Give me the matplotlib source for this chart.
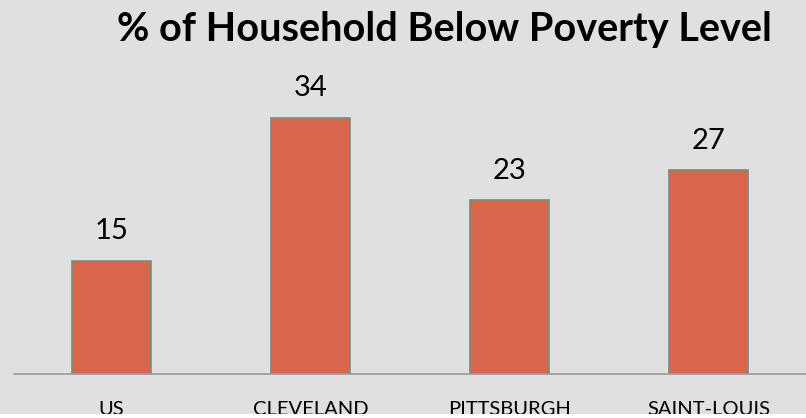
import matplotlib.pyplot as plt
from matplotlib.patches import Rectangle

cities = ['US', 'CLEVELAND', 'PITTSBURGH', 'SAINT-LOUIS']
poverty_pct = [15, 34, 23, 27]

plt.rcParams['font.family'] = ['Lato', 'DejaVu Sans']

fig = plt.figure(figsize=(8.06, 4.18), dpi=100)
fig.patch.set_facecolor('#e0e0e0')

ax = fig.add_axes([14 / 806, 1 - 373.5 / 418, 792 / 806, 301 / 418])
ax.set_facecolor('none')

x = range(len(cities))
bars = ax.bar(x, poverty_pct, width=0.4, color='#d8664c',
              edgecolor='#7b8a82', linewidth=1.2, zorder=2)

for b, v in zip(bars, poverty_pct):
    ax.annotate(str(v), (b.get_x() + b.get_width() / 2, v),
                xytext=(0, 12), textcoords='offset points',
                ha='center', va='bottom', fontsize=21, color='black')

ax.set_xlim(-0.49, 3.49)
ax.set_ylim(0, 40)
ax.set_xticks(list(x))
ax.set_xticklabels(cities, fontsize=14.5)
ax.tick_params(axis='x', length=0, pad=20)
ax.set_yticks([])
for s in ['top', 'right', 'left']:
    ax.spines[s].set_visible(False)
ax.spines['bottom'].set_color('#9a9a9a')
ax.spines['bottom'].set_linewidth(1.2)
ax.spines['bottom'].set_zorder(3)

fig.text(444 / 806, 1 - 41 / 418, '% of Household Below Poverty Level',
         ha='center', va='baseline', fontsize=28.5, fontweight='bold')

# white strip along the bottom edge
fig.add_artist(Rectangle((0, 0), 1, 4 / 418, transform=fig.transFigure,
                         facecolor='white', edgecolor='none', zorder=10))

fig.savefig('out.png', dpi=100, facecolor=fig.get_facecolor())
